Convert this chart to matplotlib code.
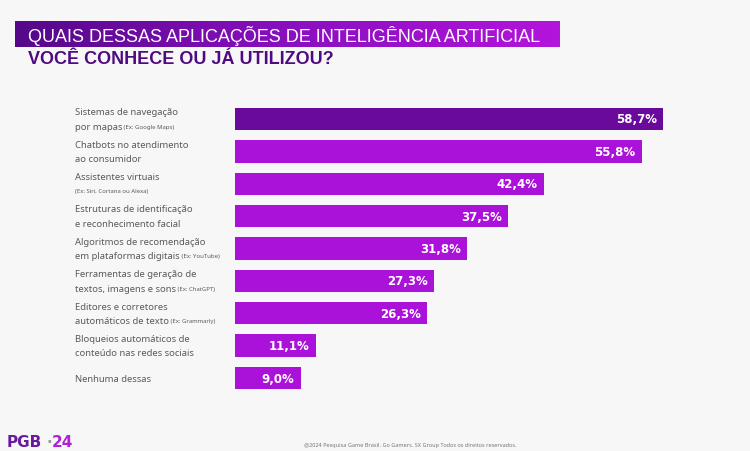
import numpy as np
import matplotlib
matplotlib.use('Agg')
import matplotlib.pyplot as plt
import matplotlib.transforms as mtransforms
from matplotlib.colors import LinearSegmentedColormap

# Data
line1 = ['Sistemas de navegação', 'Chatbots no atendimento', 'Assistentes virtuais',
         'Estruturas de identificação', 'Algoritmos de recomendação',
         'Ferramentas de geração de', 'Editores e corretores',
         'Bloqueios automáticos de', 'Nenhuma dessas']
line2 = ['por mapas', 'ao consumidor', '', 'e reconhecimento facial',
         'em plataformas digitais', 'textos, imagens e sons',
         'automáticos de texto', 'conteúdo nas redes sociais', '']
examples = ['(Ex: Google Maps)', '', '(Ex: Siri, Cortana ou Alexa)', '',
            '(Ex: YouTube)', '(Ex: ChatGPT)', '(Ex: Grammarly)', '', '']
values = [58.7, 55.8, 42.4, 37.5, 31.8, 27.3, 26.3, 11.1, 9.0]

BG = '#f7f7f7'
TOP_COLOR = '#6a0a9c'
BAR_COLOR = '#ab12d9'
TEXT_COLOR = '#5a5a5a'

plt.rcParams['font.family'] = ['Noto Sans', 'DejaVu Sans']

fig = plt.figure(figsize=(7.5, 4.52), dpi=100, facecolor=BG)
W, H = 750, 452

def fx(px):
    return px / W

def fy(py):
    return 1 - py / H

# title banner with gradient
bax = fig.add_axes([fx(15), fy(48), fx(560) - fx(15), fy(22) - fy(48)])
grad = np.linspace(0, 1, 256).reshape(1, -1)
cmap = LinearSegmentedColormap.from_list('banner', ['#55088a', '#8a0fc0', '#b414dc'])
bax.imshow(grad, aspect='auto', cmap=cmap, extent=[0, 1, 0, 1])
bax.axis('off')
fig.text(fx(28), fy(35.5), 'QUAIS DESSAS APLICAÇÕES DE INTELIGÊNCIA ARTIFICIAL',
         color='white', fontsize=13, va='center', ha='left', family='Liberation Sans')
fig.text(fx(28), fy(60), 'VOCÊ CONHECE OU JÁ UTILIZOU?',
         color='#4f0a82', fontsize=13, fontweight='bold', va='center', ha='left',
         family='Liberation Sans')

# bar axes
px_per_unit = (663 - 235) / 58.7
x_max = 70
ax_left, ax_right = 235, 235 + x_max * px_per_unit
row_top, row_bot = 120 - 16.2, 379 + 16.2
ax = fig.add_axes([fx(ax_left), fy(row_bot), fx(ax_right) - fx(ax_left), fy(row_top) - fy(row_bot)])
ax.set_facecolor('none')
ypos = np.arange(len(values))
colors = [TOP_COLOR] + [BAR_COLOR] * (len(values) - 1)
bars = ax.barh(ypos, values, height=0.69, color=colors)
ax.set_xlim(0, x_max)
ax.set_ylim(len(values) - 0.5, -0.5)
ax.axis('off')

for y, v in zip(ypos, values):
    ax.annotate(f'{v:.1f}%'.replace('.', ','), xy=(v, y), xytext=(-4.5, 0),
                textcoords='offset points', ha='right', va='center',
                color='white', fontsize=8.5, fontweight='bold', family='DejaVu Sans')

# category labels
trans = mtransforms.blended_transform_factory(fig.transFigure, ax.transData)
for y, l1, l2, ex in zip(ypos, line1, line2, examples):
    if l2 or ex:
        ax.text(fx(75), y - 0.22, l1, transform=trans, ha='left', va='center',
                fontsize=6.8, color=TEXT_COLOR)
        if l2:
            t2 = ax.text(fx(75), y + 0.22, l2, transform=trans, ha='left', va='center',
                         fontsize=6.8, color=TEXT_COLOR)
            if ex:
                ax.annotate(' ' + ex, xy=(1, 0.2), xycoords=t2, ha='left', va='bottom',
                            fontsize=4.3, color=TEXT_COLOR)
        else:
            ax.text(fx(75), y + 0.2, ex, transform=trans, ha='left', va='center',
                    fontsize=4.3, color=TEXT_COLOR)
    else:
        ax.text(fx(75), y, l1, transform=trans, ha='left', va='center',
                fontsize=6.8, color=TEXT_COLOR)

# footer
fig.text(fx(7), fy(443), 'PGB', color='#6a1a9c', fontsize=11, fontweight='bold',
         ha='left', va='center', family='DejaVu Sans')
fig.text(fx(46), fy(443), '·', color='#999999', fontsize=11, fontweight='bold',
         ha='left', va='center', family='DejaVu Sans')
fig.text(fx(52), fy(443), '24', color='#b020d6', fontsize=11, fontweight='bold',
         ha='left', va='center', family='DejaVu Sans')
fig.text(fx(410), fy(446), '@2024 Pesquisa Game Brasil. Go Gamers. SX Group Todos os direitos reservados.',
         color='#777777', fontsize=4, ha='center', va='center')

fig.savefig('out.png', dpi=100, facecolor=BG)
